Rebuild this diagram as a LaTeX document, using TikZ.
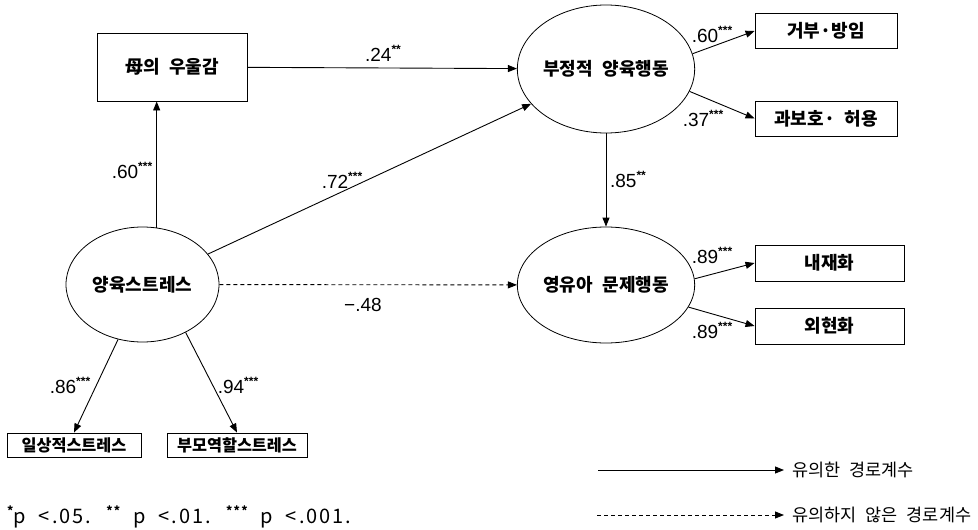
\documentclass[tikz,border=0pt]{standalone}
\usepackage{fontspec}
\newfontfamily\kr[WordSpace=2.3]{Noto Sans CJK KR}
\newfontfamily\krfoot[WordSpace=2,LetterSpace=10]{Noto Sans CJK KR}
\newfontfamily\numf{Liberation Sans}
\usetikzlibrary{arrows.meta,shapes.geometric}
\newcommand\stars[1]{\raisebox{0.42em}{\fontsize{12}{12}\selectfont\bfseries #1}}
\begin{document}
\begin{tikzpicture}[x=1pt,y=-1pt,
  arr/.style={line width=0.9pt, -{Triangle[length=9pt,width=7pt]}},
  dsh/.style={arr, dash pattern=on 4pt off 3pt},
  latent/.style={ellipse, draw, line width=0.8pt, inner sep=0pt, font=\kr\bfseries\fontsize{18}{19}\selectfont},
  obs/.style={rectangle, draw, line width=0.9pt, inner sep=0pt, font=\kr\bfseries\fontsize{18}{19}\selectfont},
  small/.style={font=\kr\bfseries\fontsize{16.3}{18}\selectfont},
  coef/.style={font=\numf\fontsize{19}{20}\selectfont, inner sep=0pt},
  legtext/.style={font=\kr\fontsize{17.5}{20}\selectfont, inner sep=0pt, anchor=west},
]
\useasboundingbox (0,0) rectangle (978,530);

% nodes
\node[obs, minimum width=150pt, minimum height=68pt] (mom) at (172,67) {母의 우울감};
\node[latent, minimum width=158pt, minimum height=128pt] (neg) at (606,69) {부정적 양육행동};
\node[latent, minimum width=153pt, minimum height=115pt] (ps) at (142.5,284.5) {양육스트레스};
\node[latent, minimum width=157pt, minimum height=116pt] (prob) at (606,285) {영유아 문제행동};
\node[obs, minimum width=142pt, minimum height=35pt] (rej) at (826,31) {거부·방임};
\node[obs, minimum width=142pt, minimum height=35pt] (over) at (826,118.5) {과보호· 허용};
\node[obs, minimum width=149pt, minimum height=36pt] (int) at (829.5,263) {내재화};
\node[obs, minimum width=149pt, minimum height=36pt] (ext) at (829.5,326) {외현화};
\node[obs, small, minimum width=134pt, minimum height=24pt] (daily) at (74,445) {일상적스트레스};
\node[obs, small, minimum width=140pt, minimum height=24pt] (role) at (237,445) {부모역할스트레스};

% connectors
\draw[arr] (mom) -- (neg);
\draw[arr] (ps) -- (neg);
\draw[dsh] (ps) -- (prob);
\draw[arr] (neg.south) -- (prob.north);
\draw[arr] (ps.76) -- (ps.76 |- mom.south);
\draw[arr] (neg.10) -- (rej.west);
\draw[arr] (neg.-15) -- (over.west);
\draw[arr] (prob.4) -- (int.west);
\draw[arr] (prob.-15) -- (ext.west);
\draw[arr] (ps.-114) -- (daily.north);
\draw[arr] (ps.-48) -- (role.north);

% coefficients
\node[coef] (c1) at (383,53) {.24\stars{**}};
\node[coef] (c2) at (132,170) {.60\stars{***}};
\node[coef] (c3) at (342,180) {.72\stars{***}};
\node[coef] (c4) at (363,305) {−.48};
\node[coef] (c5) at (628,179) {.85\stars{**}};
\node[coef] (c6) at (712,34) {.60\stars{***}};
\node[coef] (c7) at (703,118) {.37\stars{***}};
\node[coef] (c8) at (712,255) {.89\stars{***}};
\node[coef] (c9) at (712,330) {.89\stars{***}};
\node[coef] (c10) at (70,385) {.86\stars{***}};
\node[coef] (c11) at (238,385) {.94\stars{***}};

% footnote
\node[legtext, font=\krfoot\fontsize{20}{22}\selectfont] (foot) at (7,517) {\stars{*}p <.05. \stars{**} p <.01. \stars{***} p <.001.};

% legend
\coordinate (l1) at (598,470);
\coordinate (l2) at (597,515);
\node[legtext] (t1) at (792,470) {유의한 경로계수};
\node[legtext] (t2) at (792,515) {유의하지 않은 경로계수};
\draw[arr] (l1) -- ([xshift=-8pt]t1.west);
\draw[dsh] (l2) -- ([xshift=-8pt]t2.west);
\end{tikzpicture}
\end{document}
